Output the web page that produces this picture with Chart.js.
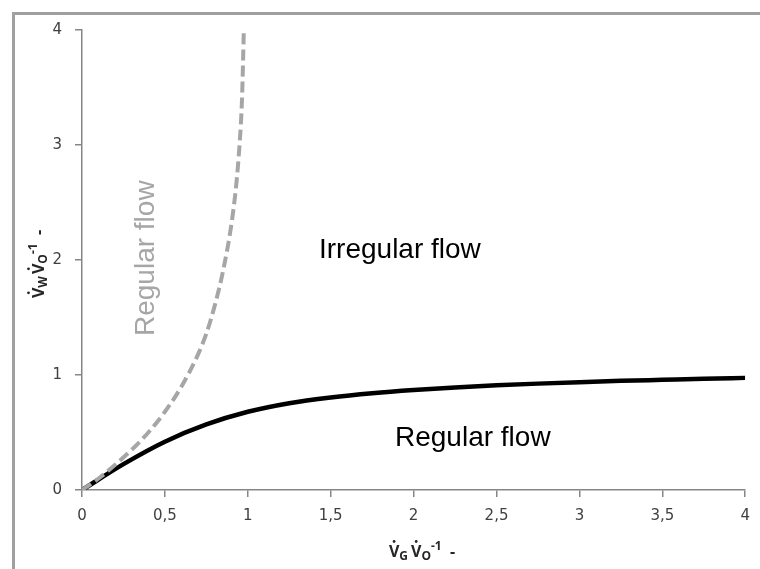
<!DOCTYPE html>
<html>
<head>
<meta charset="utf-8">
<script src="https://cdn.jsdelivr.net/npm/chart.js@4/dist/chart.umd.min.js"></script>
<style>
  html, body { margin: 0; padding: 0; background: #fff; }
  #wrap { width: 760px; height: 569px; position: relative; }
</style>
</head>
<body>
<div id="wrap"><canvas id="flowChart" width="760" height="569"></canvas></div>
<script>
// regular / irregular boundary (solid black)
const boundaryX = [0, 0.25, 0.5, 0.75, 1, 1.25, 1.5, 1.75, 2, 2.25, 2.5, 2.75, 3, 3.25, 3.5, 3.75, 4];
const boundaryY = [0, 0.225, 0.42, 0.57, 0.68, 0.755, 0.805, 0.842, 0.87, 0.892, 0.91, 0.925, 0.938, 0.949, 0.958, 0.967, 0.975];

// second limit (grey dashed)
const limitX = [0, 0.1, 0.2, 0.3, 0.4, 0.5, 0.6, 0.7, 0.75, 0.8, 0.85, 0.9, 0.93, 0.95, 0.965, 0.976];
const limitY = [0, 0.1, 0.22, 0.35, 0.5, 0.68, 0.9, 1.18, 1.36, 1.6, 1.9, 2.3, 2.65, 3.0, 3.4, 4.0];

const xTicks = [0, 0.5, 1, 1.5, 2, 2.5, 3, 3.5, 4];
const yTicks = [0, 1, 2, 3, 4];

const axisGrey = "#868686";
const lightGrey = "#a6a6a6";

Chart.defaults.font.family = "DejaVu Sans";
Chart.defaults.font.size = 15;
Chart.defaults.color = "#404040";

function toPoints(xs, ys) {
    return xs.map((x, i) => ({ x: x, y: ys[i] }));
}

// ====== rich text (dot over V, sub/superscripts) ======
function partFont(p) {
    const size = p.sub || p.sup ? 12 : 16;
    return "bold " + size + "px 'Open Sans'";
}

function drawRich(ctx, parts, x, y) {
    let cx = x;
    parts.forEach(p => {
        ctx.font = partFont(p);
        let dy = 0;
        if (p.sub) dy = 3;
        if (p.sup) dy = -7;
        ctx.fillText(p.t, cx, y + dy);
        const w = ctx.measureText(p.t).width;
        if (p.dot) {
            ctx.beginPath();
            ctx.arc(cx + w / 2, y - 15.5, 1.4, 0, Math.PI * 2);
            ctx.fill();
        }
        cx += w + (p.gap || 0);
    });
    return cx - x;
}

function richWidth(ctx, parts) {
    let w = 0;
    parts.forEach(p => {
        ctx.font = partFont(p);
        w += ctx.measureText(p.t).width + (p.gap || 0);
    });
    return w;
}

const xTitle = [
    { t: "V", dot: true }, { t: "G", sub: true, gap: 3 },
    { t: "V", dot: true }, { t: "O", sub: true }, { t: "-1", sup: true }, { t: "  -" }
];
const yTitle = [
    { t: "V", dot: true }, { t: "W", sub: true, gap: 2 },
    { t: "V", dot: true }, { t: "O", sub: true }, { t: "-1", sup: true }, { t: "  -" }
];

const decorPlugin = {
    id: "decor",
    beforeDraw(chart) {
        const ctx = chart.ctx;
        ctx.save();
        ctx.fillStyle = "#fff";
        ctx.fillRect(0, 0, chart.width, chart.height);
        ctx.strokeStyle = "#a0a0a0";
        ctx.lineWidth = 3;
        ctx.strokeRect(13.5, 13.5, 800, 600);
        ctx.restore();
    },
    afterDraw(chart) {
        const ctx = chart.ctx;
        ctx.save();
        ctx.fillStyle = "#262626";
        ctx.textBaseline = "alphabetic";
        ctx.textAlign = "left";

        // axis titles
        const wx = richWidth(ctx, xTitle);
        drawRich(ctx, xTitle, 422 - wx / 2, 557);

        const wy = richWidth(ctx, yTitle);
        ctx.save();
        ctx.translate(44, 264);
        ctx.rotate(-Math.PI / 2);
        drawRich(ctx, yTitle, -wy / 2, 0);
        ctx.restore();

        // region labels
        ctx.font = "28px 'Liberation Sans'";
        ctx.fillStyle = "#000";
        ctx.fillText("Irregular flow", 319, 258);
        ctx.fillText("Regular flow", 395, 446);

        ctx.save();
        ctx.fillStyle = lightGrey;
        ctx.translate(154, 336);
        ctx.rotate(-Math.PI / 2);
        ctx.fillText("Regular flow", 0, 0);
        ctx.restore();

        ctx.restore();
    }
};

const ctx = document.getElementById("flowChart").getContext("2d");

new Chart(ctx, {
    type: "scatter",
    data: {
        datasets: [
            {
                label: "limit",
                data: toPoints(limitX, limitY),
                showLine: true,
                borderColor: lightGrey,
                borderWidth: 4,
                borderDash: [11, 5],
                pointRadius: 0,
                cubicInterpolationMode: "monotone",
                order: 0
            },
            {
                label: "boundary",
                data: toPoints(boundaryX, boundaryY),
                showLine: true,
                borderColor: "#000",
                borderWidth: 4.5,
                pointRadius: 0,
                cubicInterpolationMode: "monotone",
                order: 1
            }
        ]
    },
    options: {
        responsive: false,
        animation: false,
        layout: { padding: { left: 0, top: 30, right: 2, bottom: 0 } },
        plugins: {
            legend: { display: false },
            tooltip: { enabled: false }
        },
        scales: {
            x: {
                type: "linear",
                min: 0,
                max: 4,
                afterBuildTicks: (s) => { s.ticks = xTicks.map(v => ({ value: v })); },
                afterFit: (s) => { s.height = 79; },
                border: { display: true, color: axisGrey, width: 1.5 },
                grid: { drawOnChartArea: false, drawTicks: true, tickLength: 7, color: axisGrey, lineWidth: 1.5 },
                ticks: {
                    padding: 10,
                    color: "#404040",
                    maxRotation: 0,
                    callback: (v) => String(v).replace(".", ",")
                }
            },
            y: {
                type: "linear",
                min: 0,
                max: 4,
                afterBuildTicks: (s) => { s.ticks = yTicks.map(v => ({ value: v })); },
                afterFit: (s) => { s.width = 82; },
                border: { display: true, color: axisGrey, width: 1.5 },
                grid: { drawOnChartArea: false, drawTicks: true, tickLength: 7, color: axisGrey, lineWidth: 1.5 },
                ticks: {
                    padding: 13,
                    color: "#404040"
                }
            }
        }
    },
    plugins: [decorPlugin]
});
</script>
</body>
</html>
